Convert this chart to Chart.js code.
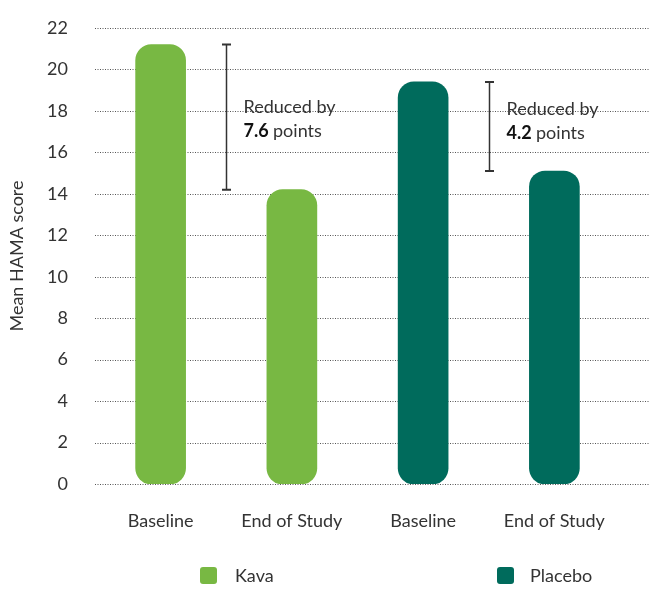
<!DOCTYPE html>
<html lang="en">
<head>
    <meta charset="UTF-8"/>
    <title>Mean HAMA score - Kava vs Placebo</title>
    <script src="https://cdn.jsdelivr.net/npm/chart.js"></script>
    <style>
        body { margin: 0; background: #fff; font-family: Lato, sans-serif; }
        .wrap { position: relative; width: 650px; height: 590px; }
        .legend { position: absolute; top: 563px; left: 0; width: 650px; height: 26px; color: #333; font-size: 18px; }
        .legend span { position: absolute; top: 0; line-height: 24px; }
        .legend i { position: absolute; top: 4px; width: 17px; height: 17px; border-radius: 3px; }
    </style>
</head>
<body>
<div class="wrap">
    <canvas id="grafico"></canvas>
    <div class="legend">
        <i style="left:200px; background:#78b843;"></i><span style="left:235px;">Kava</span>
        <i style="left:497px; background:#006b5c;"></i><span style="left:530px;">Placebo</span>
    </div>
</div>

<script>
    // Dados
    const categorias = ['Baseline', 'End of Study', 'Baseline', 'End of Study'];
    const kava = [21.2, 14.2, null, null];
    const placebo = [null, null, 19.4, 15.1];
    const yMin = 0, yMax = 22, yStep = 2;
    // pares [inicio, fim] e texto da redução
    const pares = [[0, 1], [2, 3]];
    const reducoes = ['7.6', '4.2'];
    const textoY = [17.6, 17.5];

    const corKava = '#78b843';
    const corPlacebo = '#006b5c';
    const fonte = 'Lato, sans-serif';

    function valor(i) {
        return kava[i] !== null ? kava[i] : placebo[i];
    }

    // linhas pontilhadas da grade, até a borda direita
    const gradePontilhada = {
        id: 'gradePontilhada',
        beforeDatasetsDraw(chart) {
            const ctx = chart.ctx, y = chart.scales.y, area = chart.chartArea;
            ctx.save();
            ctx.strokeStyle = '#555';
            ctx.lineWidth = 1;
            ctx.setLineDash([1, 1.5]);
            for (let v = yMin; v <= yMax; v += yStep) {
                const py = Math.round(y.getPixelForValue(v)) + 0.5;
                ctx.beginPath();
                ctx.moveTo(area.left, py);
                ctx.lineTo(chart.width, py);
                ctx.stroke();
            }
            ctx.restore();
        }
    };

    // colchetes com "Reduced by"
    const colchetes = {
        id: 'colchetes',
        afterDatasetsDraw(chart) {
            const ctx = chart.ctx, x = chart.scales.x, y = chart.scales.y;
            ctx.save();
            pares.forEach((p, k) => {
                const px = Math.round((x.getPixelForValue(p[0]) + x.getPixelForValue(p[1])) / 2) + 0.5;
                const y1 = y.getPixelForValue(valor(p[0]));
                const y2 = y.getPixelForValue(valor(p[1]));
                ctx.strokeStyle = '#333';
                ctx.lineWidth = 1.5;
                ctx.beginPath();
                ctx.moveTo(px, y1); ctx.lineTo(px, y2);
                ctx.stroke();
                ctx.lineWidth = 2;
                ctx.beginPath();
                ctx.moveTo(px - 4.5, y1); ctx.lineTo(px + 4.5, y1);
                ctx.moveTo(px - 4.5, y2); ctx.lineTo(px + 4.5, y2);
                ctx.stroke();

                const ty = y.getPixelForValue(textoY[k]);
                const tx = px + 17;
                ctx.textBaseline = 'middle';
                ctx.textAlign = 'left';
                ctx.fillStyle = '#333';
                ctx.font = '18px ' + fonte;
                ctx.fillText('Reduced by', tx, ty - 12);
                ctx.font = 'bold 18px ' + fonte;
                ctx.fillStyle = '#111';
                ctx.fillText(reducoes[k], tx, ty + 12);
                const w = ctx.measureText(reducoes[k] + ' ').width;
                ctx.font = '18px ' + fonte;
                ctx.fillStyle = '#333';
                ctx.fillText('points', tx + w, ty + 12);
            });
            ctx.restore();
        }
    };

    const config = {
        type: 'bar',
        data: {
            labels: categorias,
            datasets: [
                {
                    label: 'Kava',
                    data: kava,
                    backgroundColor: corKava
                },
                {
                    label: 'Placebo',
                    data: placebo,
                    backgroundColor: corPlacebo
                }
            ]
        },
        options: {
            responsive: true,
            maintainAspectRatio: false,
            animation: false,
            grouped: false,
            barThickness: 50,
            borderRadius: 16,
            borderSkipped: false,
            layout: { padding: { top: 28, right: 30, left: 0, bottom: 0 } },
            plugins: {
                legend: { display: false },
                tooltip: { enabled: false }
            },
            scales: {
                x: {
                    grid: { display: false, drawTicks: false },
                    border: { display: false },
                    ticks: { color: '#333', padding: 26, font: { family: fonte, size: 18 }, maxRotation: 0 },
                    afterFit: s => { s.height = 106; s.paddingLeft = 0; s.paddingRight = 0; }
                },
                y: {
                    min: yMin,
                    max: yMax,
                    grid: { display: false, drawTicks: false },
                    border: { display: false },
                    ticks: { stepSize: yStep, color: '#333', padding: 27, font: { family: fonte, size: 18 } },
                    title: {
                        display: true,
                        text: 'Mean HAMA score',
                        color: '#333',
                        font: { family: fonte, size: 18 },
                        padding: { top: 6, bottom: 0 }
                    },
                    afterFit: s => { s.width = 95; s.paddingTop = 0; s.paddingBottom = 0; }
                }
            }
        },
        plugins: [gradePontilhada, colchetes]
    };

    new Chart(document.getElementById('grafico').getContext('2d'), config);
</script>
</body>
</html>
